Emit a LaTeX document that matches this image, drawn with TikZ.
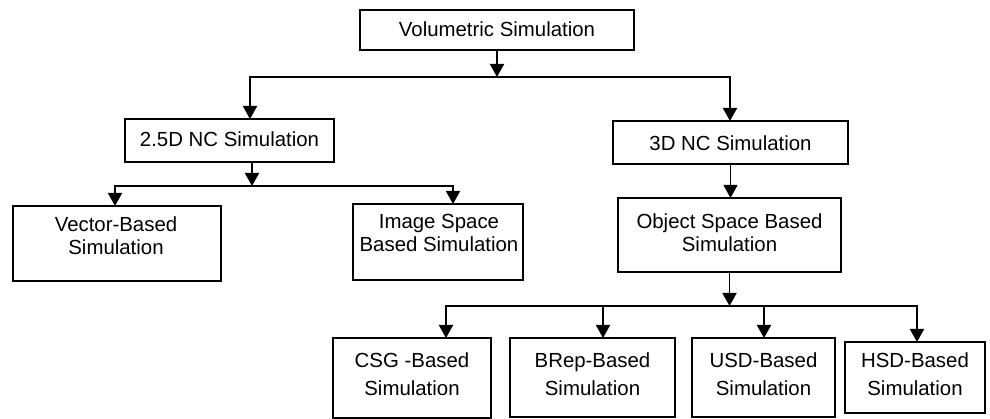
\documentclass[tikz,border=0pt]{standalone}
\usepackage{fontspec}
\setmainfont{Liberation Sans}
\usetikzlibrary{arrows.meta}
\begin{document}
\begin{tikzpicture}[x=1pt,y=-1pt,
  box/.style={draw, line width=1.9pt, inner sep=0pt, outer sep=0pt},
  txt/.style={font=\fontsize{20.4}{23}\selectfont, align=center, inner sep=0pt},
  txtwide/.style={font=\fontsize{20.4}{28.5}\selectfont, align=center, inner sep=0pt},
  arr/.style={line width=1.9pt, -{Triangle[width=14pt,length=13pt]}},
  thinarr/.style={line width=1pt, -{Triangle[width=14pt,length=13pt]}}]
\useasboundingbox (0,0) rectangle (990,419);

% boxes (centre, size)
\node[box, minimum width=274pt, minimum height=40pt] (vol)  at (497,30)    {};
\node[box, minimum width=209pt, minimum height=43pt] (nc25) at (229.5,140.5) {};
\node[box, minimum width=235pt, minimum height=43pt] (nc3)  at (730.5,142.5) {};
\node[box, minimum width=208pt, minimum height=75pt] (vec)  at (117,243.5) {};
\node[box, minimum width=170pt, minimum height=76pt] (img)  at (438,242)   {};
\node[box, minimum width=223pt, minimum height=74pt] (obj)  at (729.5,235) {};
\node[box, minimum width=158pt, minimum height=80pt] (csg)  at (412,378)   {};
\node[box, minimum width=165pt, minimum height=79pt] (brep) at (592.5,377.5) {};
\node[box, minimum width=143pt, minimum height=79pt] (usd)  at (763.5,377.5) {};
\node[box, minimum width=140pt, minimum height=71pt] (hsd)  at (915,377.5) {};

% labels
\node[txt] (volT)  at (497,29.5)   {Volumetric Simulation};
\node[txt] (nc25T) at (229.5,139.5) {2.5D NC Simulation};
\node[txt] (nc3T)  at (730.5,143)  {3D NC Simulation};
\node[txt] (vecT)  at (116,236)    {Vector-Based\\Simulation};
\node[txt] (imgT)  at (439,233.4)  {Image Space\\Based Simulation};
\node[txt] (objT)  at (729.5,232.3) {Object Space Based\\Simulation};
\node[txtwide] (csgT)  at (412,374)   {CSG -Based\\Simulation};
\node[txtwide] (brepT) at (592.5,374) {BRep-Based\\Simulation};
\node[txtwide] (usdT)  at (763.5,374) {USD-Based\\Simulation};
\node[txtwide] (hsdT)  at (915,374)   {HSD-Based\\Simulation};

% junctions and drop lines
\coordinate (j1) at (497,77);
\coordinate (d25) at (250,0);
\coordinate (d3) at (730,0);
\coordinate (j2) at (252,186);
\coordinate (dvec) at (115,0);
\coordinate (dimg) at (453,0);
\coordinate (j3) at (729.5,306);
\coordinate (dcsg) at (446,0);
\coordinate (dbrep) at (603,0);
\coordinate (dusd) at (764,0);
\coordinate (dhsd) at (917,0);

% top level
\draw[arr] (vol.south) -- (j1);
\draw[arr] (j1) -| (d25 |- nc25.north);
\draw[arr] (j1) -| (d3 |- nc3.north);

% 2.5D branch
\draw[arr] (nc25.south -| j2) -- (j2);
\draw[arr] (j2) -| (dvec |- vec.north);
\draw[arr] (j2) -| (dimg |- img.north);

% 3D branch
\draw[thinarr] (nc3.south) -- (nc3.south |- obj.north);
\draw[arr] (obj.south) -- (j3);
\draw[arr] (j3) -| (dcsg |- csg.north);
\draw[arr] (j3) -| (dhsd |- hsd.north);
\draw[arr] (dbrep |- j3) -- (dbrep |- brep.north);
\draw[arr] (dusd |- j3) -- (dusd |- usd.north);
\end{tikzpicture}
\end{document}
